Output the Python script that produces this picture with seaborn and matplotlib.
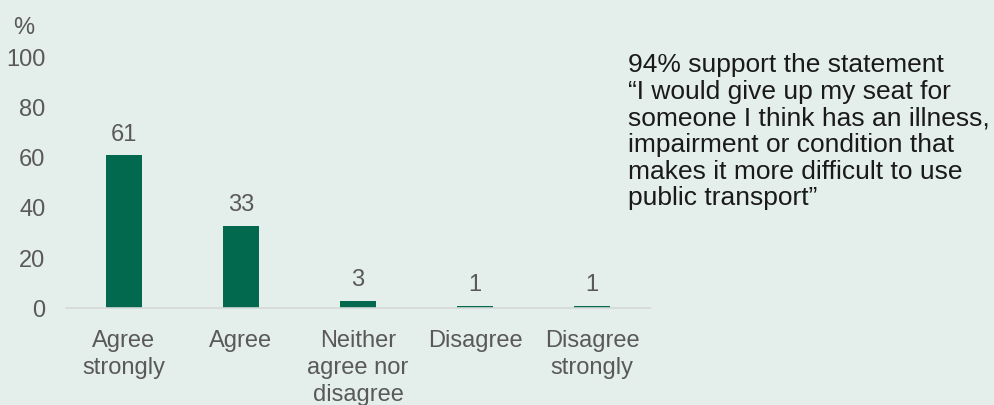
import matplotlib
matplotlib.use("Agg")
import matplotlib.pyplot as plt
import seaborn as sns
import pandas as pd

categories = ["Agree\nstrongly", "Agree", "Neither\nagree nor\ndisagree", "Disagree", "Disagree\nstrongly"]
values = [61, 33, 3, 1, 1]
y_ticks = [0, 20, 40, 60, 80, 100]
note = ("94% support the statement\n"
        "\u201cI would give up my seat for\n"
        "someone I think has an illness,\n"
        "impairment or condition that\n"
        "makes it more difficult to use\n"
        "public transport\u201d")

bg = "#E4EEEA"
bar_color = "#02694F"
grey = "#595959"

sns.set_theme(style="white")
plt.rcParams["font.family"] = ["Liberation Sans", "DejaVu Sans"]

df = pd.DataFrame({"response": categories, "pct": values})

fig = plt.figure(figsize=(9.94, 4.05), dpi=100, facecolor=bg)
ax = fig.add_axes([0.0659, 0.2395, 0.5885, 0.6173])
ax.set_facecolor(bg)

sns.barplot(data=df, x="response", y="pct", color=bar_color, width=0.31,
            saturation=1, linewidth=0, ax=ax)

for i, v in enumerate(values):
    ax.annotate(f"{v}", (i, v), xytext=(0, 7), textcoords="offset points",
                ha="center", va="bottom", fontsize=17, color=grey)

ax.set_xlim(-0.5, 4.5)
ax.set_ylim(0, 100)
ax.set_yticks(y_ticks)
ax.set_xlabel("")
ax.set_ylabel("")
ax.tick_params(axis="y", length=0, pad=14.5, labelsize=17, labelcolor=grey)
ax.tick_params(axis="x", length=0, pad=16, labelsize=17, labelcolor=grey)
for lbl in ax.get_xticklabels():
    lbl.set_linespacing(1.3)

for side in ["top", "right", "left"]:
    ax.spines[side].set_visible(False)
ax.spines["bottom"].set_color("#D5D9D7")
ax.spines["bottom"].set_linewidth(1.2)
ax.set_axisbelow(True)

fig.text(0.013, 0.93, "%", fontsize=17, color=grey, ha="left", va="center")
fig.text(0.632, 0.869, note, fontsize=19, color="#1a1a1a", ha="left", va="top",
         linespacing=1.14)

fig.savefig("out.png", dpi=100, facecolor=bg)
